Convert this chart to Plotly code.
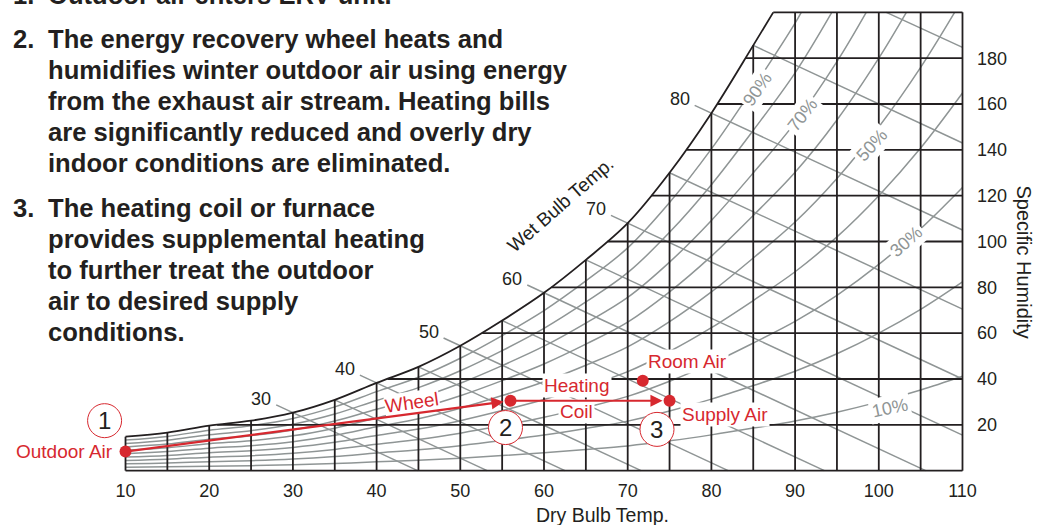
import numpy as np
import plotly.graph_objects as go

# ---------------- data ----------------
# saturation curve: dry bulb (F) vs specific humidity (gr/lb)
sat_T = [10, 15, 20, 25, 30, 35, 40, 45, 50, 55, 60, 65, 70, 75, 80, 85, 90, 95, 100, 105, 110]
sat_W = [14.8, 16.6, 19.6, 21.8, 25.3, 30.9, 38.3, 45.3, 54.5, 65.5, 77.6, 92, 108, 130, 156, 185.6, 217, 255, 300, 352, 412]

dry_bulb_grid = list(range(10, 115, 5))
hum_grid = [20, 40, 60, 80, 100, 120, 140, 160, 180]
x_ticks = [10, 20, 30, 40, 50, 60, 70, 80, 90, 100, 110]
y_ticks = [20, 40, 60, 80, 100, 120, 140, 160, 180]

# wet bulb lines: wet bulb temp, end point (dry bulb, humidity)
wb_temp = [30, 35, 40, 45, 50, 55, 60, 65, 70, 75, 80, 85, 90]
wb_end_T = [44.9, 53.2, 62.5, 71.6, 82.0, 93.5, 105.6, 110, 110, 110, 110, 110, 110]
wb_end_W = [0, 0, 0, 0, 0, 0, 0, 15.5, 40, 70.5, 105, 143, 184.7]
wb_labeled = [30, 40, 50, 60, 70, 80]
wb90_top_T = 100.9

# relative humidity curves
rh_levels = [0.1, 0.2, 0.3, 0.4, 0.5, 0.6, 0.7, 0.8, 0.9]
rh_label_text = ["10%", "30%", "50%", "70%", "90%"]
rh_label_T = [101.3, 103.2, 99.2, 90.9, 85.5]
rh_label_W = [27.2, 100, 142, 155, 166.7]
rh_label_angle = [-12, -42, -48, -52, -55]

# process points
proc_names = ["Outdoor Air", "Wheel out", "Supply Air", "Room Air"]
proc_T = [10, 56, 75, 71.8]
proc_W = [8.3, 30.5, 30.5, 39.2]

W_TOP = 200
XR = [9.7, 110.3]
YR = [-0.6, 200.6]

GRAY = "#8f9595"
BLACK = "#231f20"
RED = "#d7282f"
FONT = "Liberation Sans"

lnsat_W = np.log(sat_W)


def sat_at(t):
    return float(np.exp(np.interp(t, sat_T, lnsat_W)))


def t_at_sat(w):
    return float(np.interp(np.log(w), lnsat_W, sat_T))


fig = go.Figure()

# ---- RH curves (gray) ----
for rh in rh_levels:
    xs, ys = [], []
    for t, w in zip(sat_T, sat_W):
        if rh * w <= W_TOP:
            xs.append(t)
            ys.append(rh * w)
        else:
            tc = t_at_sat(W_TOP / rh)
            xs.append(tc)
            ys.append(W_TOP)
            break
    fig.add_trace(go.Scatter(x=xs, y=ys, mode="lines", line=dict(color=GRAY, width=1.5, shape="spline"),
                             hoverinfo="skip", showlegend=False))

# ---- wet bulb lines (gray) ----
wx, wy = [], []
for tw, te, we in zip(wb_temp, wb_end_T, wb_end_W):
    if tw <= 85:
        t0, w0 = tw, sat_at(tw)
        if tw in wb_labeled:
            slope = (w0 - we) / (te - t0)
            t0, w0 = t0 - 2.0, w0 + 2.0 * slope
    else:
        t0, w0 = wb90_top_T, W_TOP
    wx += [t0, te, None]
    wy += [w0, we, None]
fig.add_trace(go.Scatter(x=wx, y=wy, mode="lines", line=dict(color=GRAY, width=1.5),
                         hoverinfo="skip", showlegend=False))

# ---- black grid ----
t_top = t_at_sat(W_TOP)
sx = [t for t in sat_T if t < t_top] + [t_top]
sy = [w for t, w in zip(sat_T, sat_W) if t < t_top] + [W_TOP]
fig.add_trace(go.Scatter(x=sx, y=sy, mode="lines", line=dict(color=BLACK, width=1.8, shape="spline"),
                         hoverinfo="skip", showlegend=False))

gx, gy = [], []
for t in dry_bulb_grid:
    top = min(sat_at(t), W_TOP)
    gx += [t, t, None]
    gy += [0, top, None]
for w in hum_grid:
    gx += [t_at_sat(w), 110, None]
    gy += [w, w, None]
# boundaries
gx += [10, 110, None, t_top, 110, None]
gy += [0, 0, None, W_TOP, W_TOP, None]
fig.add_trace(go.Scatter(x=gx, y=gy, mode="lines", line=dict(color=BLACK, width=1.8),
                         hoverinfo="skip", showlegend=False))

# ---- process points ----
fig.add_trace(go.Scatter(x=proc_T, y=proc_W, mode="markers", marker=dict(color=RED, size=12),
                         hoverinfo="skip", showlegend=False, cliponaxis=False))

ann = []
# wet bulb labels
for tw in wb_labeled:
    i = wb_temp.index(tw)
    w0 = sat_at(tw)
    slope = (w0 - wb_end_W[i]) / (wb_end_T[i] - tw)
    ann.append(dict(x=tw - 2.0, y=w0 + 2.0 * slope, text=str(tw), showarrow=False, xanchor="right",
                    yanchor="middle", xshift=-3, yshift=6, font=dict(family=FONT, size=18, color=BLACK)))
ann.append(dict(x=62.0, y=116.0, text="Wet Bulb Temp.", showarrow=False, textangle=-41,
                xanchor="center", yanchor="middle", font=dict(family=FONT, size=19, color=BLACK)))

# RH labels
for txt, t, w, a in zip(rh_label_text, rh_label_T, rh_label_W, rh_label_angle):
    ann.append(dict(x=t, y=w, text=txt, showarrow=False, textangle=a, bgcolor="white", borderpad=2,
                    xanchor="center", yanchor="middle", font=dict(family=FONT, size=18, color=GRAY)))

# red labels
red_font = dict(family=FONT, size=19, color=RED)
ann.append(dict(x=proc_T[0], y=proc_W[0], text="Outdoor Air", showarrow=False, xanchor="right",
                yanchor="middle", xshift=-11, font=red_font))
ann.append(dict(x=44.2, y=29.6, text="Wheel", showarrow=False, textangle=-8, bgcolor="white", borderpad=0,
                xanchor="center", yanchor="middle", font=red_font))
ann.append(dict(x=63.9, y=37.0, text="Heating", showarrow=False, bgcolor="white", borderpad=1,
                xanchor="center", yanchor="middle", font=red_font))
ann.append(dict(x=63.9, y=26.0, text="Coil", showarrow=False, bgcolor="white", borderpad=1,
                xanchor="center", yanchor="middle", font=red_font))
ann.append(dict(x=77.1, y=47.6, text="Room Air", showarrow=False, bgcolor="white", borderpad=1,
                xanchor="center", yanchor="middle", font=red_font))
ann.append(dict(x=81.6, y=24.6, text="Supply Air", showarrow=False, bgcolor="white", borderpad=1,
                xanchor="center", yanchor="middle", font=red_font))

# arrows
for a, b in [(0, 1), (1, 2)]:
    ann.append(dict(x=proc_T[b], y=proc_W[b], ax=proc_T[a], ay=proc_W[a], axref="x", ayref="y",
                    xref="x", yref="y", text="", showarrow=True, arrowhead=2, arrowsize=1.1,
                    arrowwidth=2.2, arrowcolor=RED, standoff=7))


# paper helpers
def px_x(T):
    return (T - XR[0]) / (XR[1] - XR[0])


def px_y(W):
    return (W - YR[0]) / (YR[1] - YR[0])


# circled numbers
circles = [("1", 7.5, 21.8), ("2", 55.4, 18.8), ("3", 73.5, 18.0)]
shapes = []
for num, t, w in circles:
    shapes.append(dict(type="circle", xref="paper", yref="paper", xsizemode="pixel", ysizemode="pixel",
                       xanchor=px_x(t), yanchor=px_y(w), x0=-17, x1=17, y0=-17, y1=17,
                       line=dict(color=RED, width=1), fillcolor="white", layer="above"))
    ann.append(dict(x=px_x(t), y=px_y(w), xref="paper", yref="paper", text=num, showarrow=False,
                    xanchor="center", yanchor="middle", font=dict(family=FONT, size=24, color=BLACK)))

# axis titles
ann.append(dict(x=0.5695, y=-0.094, xref="paper", yref="paper", text="Dry Bulb Temp.", showarrow=False,
                xanchor="center", yanchor="middle", font=dict(family=FONT, size=19.5, color=BLACK)))
ann.append(dict(x=1.0707, y=0.4556, xref="paper", yref="paper", text="Specific Humidity", showarrow=False,
                xanchor="center", yanchor="middle", textangle=90, font=dict(family=FONT, size=20, color=BLACK)))

# left text block (positions in screen pixels)
H = 461.8


def py(p):
    return (472.4 - p) / H


def pxx(p):
    return (p - 123.5) / 842.0


body_font = dict(family=FONT, size=25.6, color=BLACK, weight="bold")
text_items = [
    ("1.", -5, ["Outdoor air enters ERV unit."]),
    ("2.", 39, ["The energy recovery wheel heats and",
                "humidifies winter outdoor air using energy",
                "from the exhaust air stream. Heating bills",
                "are significantly reduced and overly dry",
                "indoor conditions are eliminated."]),
    ("3.", 208, ["The heating coil or furnace",
                 "provides supplemental heating",
                 "to further treat the outdoor",
                 "air to desired supply",
                 "conditions."]),
]
for num, y0, lines in text_items:
    ann.append(dict(x=pxx(11), y=py(y0), xref="paper", yref="paper", text=num, showarrow=False,
                    xanchor="left", yanchor="middle", font=body_font))
    for k, line in enumerate(lines):
        ann.append(dict(x=pxx(46), y=py(y0 + k * 31), xref="paper", yref="paper", text=line,
                        showarrow=False, xanchor="left", yanchor="middle", font=body_font))

fig.update_layout(
    width=1048, height=525,
    margin=dict(l=123, r=83, t=11, b=53),
    paper_bgcolor="white", plot_bgcolor="white",
    annotations=ann, shapes=shapes,
    xaxis=dict(range=XR, tickvals=x_ticks, showgrid=False, zeroline=False, showline=False, ticks="",
               ticklabelstandoff=6, tickfont=dict(family=FONT, size=18, color=BLACK), fixedrange=True),
    yaxis=dict(range=YR, side="right", tickvals=y_ticks, showgrid=False, zeroline=False, showline=False,
               ticks="", ticklabelstandoff=11, tickfont=dict(family=FONT, size=18, color=BLACK),
               fixedrange=True),
)

fig.write_html("out.html", config={"displayModeBar": False},
               post_script="document.body.style.margin='0';")
